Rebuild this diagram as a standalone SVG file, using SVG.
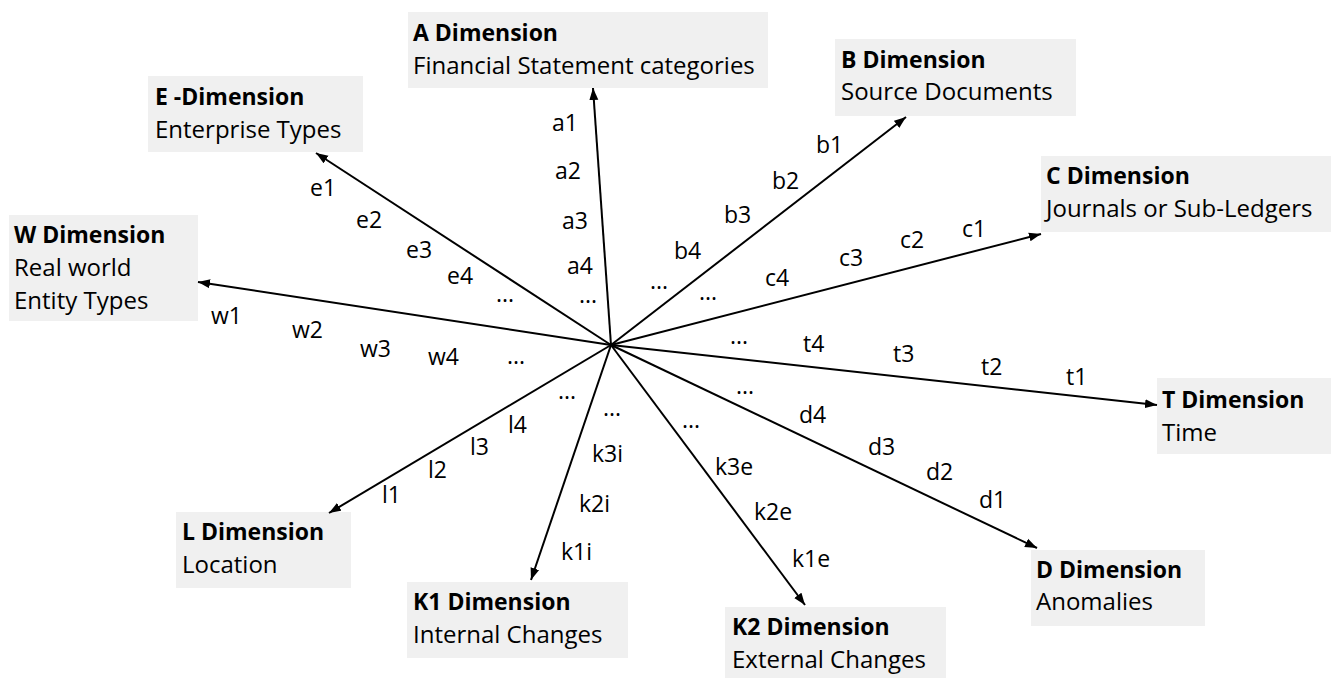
<svg xmlns="http://www.w3.org/2000/svg" width="1331" height="678" viewBox="0 0 1331 678">
<style>
.box{fill:#f0f0f0;stroke:none}
.h{font-family:"Open Sans","Noto Sans",sans-serif;font-size:23px;font-weight:bold;fill:#000}
.s{font-family:"Open Sans","Noto Sans",sans-serif;font-size:24px;fill:#000}
.l{font-family:"Open Sans","Noto Sans",sans-serif;font-size:23px;fill:#000}
.d{font-family:"Open Sans","Noto Sans",sans-serif;font-size:23px;fill:#000;line-height:1}
.c{stroke:#000;stroke-width:2;fill:none;marker-end:url(#ah)}
</style>
<defs>
<marker id="ah" markerUnits="userSpaceOnUse" markerWidth="13" markerHeight="10" refX="12" refY="5" orient="auto">
<path d="M0,0.5 L12,5 L0,9.5 Z" fill="#000"/>
</marker>
</defs>
<rect width="1331" height="678" fill="#fff"/>
<g id="nodeA"><rect class="box" x="408" y="12" width="360" height="76"/><text class="h" x="413" y="41">A Dimension</text><text class="s" x="413" y="74">Financial Statement categories</text></g>
<g id="nodeE"><rect class="box" x="148" y="76" width="215" height="76"/><text class="h" x="155" y="105">E -Dimension</text><text class="s" x="155" y="138">Enterprise Types</text></g>
<g id="nodeW"><rect class="box" x="9" y="215" width="189" height="106"/><text class="h" x="14" y="243">W Dimension</text><text class="s" x="14" y="276">Real world</text><text class="s" x="14" y="309">Entity Types</text></g>
<g id="nodeB"><rect class="box" x="835" y="39" width="241" height="77"/><text class="h" x="841" y="68">B Dimension</text><text class="s" x="841" y="100">Source Documents</text></g>
<g id="nodeC"><rect class="box" x="1041" y="156" width="290" height="76"/><text class="h" x="1046" y="184">C Dimension</text><text class="s" x="1046" y="217">Journals or Sub-Ledgers</text></g>
<g id="nodeT"><rect class="box" x="1157" y="378" width="174" height="76"/><text class="h" x="1162" y="408">T Dimension</text><text class="s" x="1162" y="441">Time</text></g>
<g id="nodeD"><rect class="box" x="1031" y="550" width="174" height="76"/><text class="h" x="1036" y="578">D Dimension</text><text class="s" x="1036" y="610">Anomalies</text></g>
<g id="nodeK2"><rect class="box" x="725" y="607" width="221" height="71"/><text class="h" x="732" y="635">K2 Dimension</text><text class="s" x="732" y="668">External Changes</text></g>
<g id="nodeK1"><rect class="box" x="407" y="582" width="221" height="76"/><text class="h" x="413" y="610">K1 Dimension</text><text class="s" x="413" y="643">Internal Changes</text></g>
<g id="nodeL"><rect class="box" x="176" y="512" width="175" height="76"/><text class="h" x="182" y="540">L Dimension</text><text class="s" x="182" y="573">Location</text></g>
<g id="connectors">
<line class="c" x1="611" y1="345" x2="593" y2="88"/>
<line class="c" x1="611" y1="345" x2="316" y2="153"/>
<line class="c" x1="611" y1="345" x2="198" y2="282"/>
<line class="c" x1="611" y1="345" x2="906" y2="117"/>
<line class="c" x1="611" y1="345" x2="1041" y2="234"/>
<line class="c" x1="611" y1="345" x2="1157" y2="405"/>
<line class="c" x1="611" y1="345" x2="1037" y2="548"/>
<line class="c" x1="611" y1="345" x2="805" y2="605"/>
<line class="c" x1="611" y1="345" x2="531" y2="580"/>
<line class="c" x1="611" y1="345" x2="329" y2="513"/>
</g>
<g id="labels">
<text class="l" x="552" y="131">a1</text><text class="l" x="555" y="179">a2</text><text class="l" x="562" y="229">a3</text><text class="l" x="567" y="274">a4</text><text class="l" x="579" y="303">...</text>
<text class="l" x="310" y="196">e1</text><text class="l" x="356" y="228">e2</text><text class="l" x="406" y="258">e3</text><text class="l" x="447" y="284">e4</text><text class="l" x="496" y="302">...</text>
<text class="l" x="211" y="324">w1</text><text class="l" x="292" y="338">w2</text><text class="l" x="360" y="357">w3</text><text class="l" x="428" y="365">w4</text><text class="l" x="507" y="364">...</text>
<text class="l" x="816" y="153">b1</text><text class="l" x="772" y="189">b2</text><text class="l" x="724" y="223">b3</text><text class="l" x="674" y="259">b4</text><text class="l" x="650" y="289">...</text>
<text class="l" x="962" y="237">c1</text><text class="l" x="900" y="248">c2</text><text class="l" x="839" y="266">c3</text><text class="l" x="765" y="286">c4</text><text class="l" x="699" y="300">...</text>
<text class="l" x="1066" y="385">t1</text><text class="l" x="981" y="375">t2</text><text class="l" x="893" y="362">t3</text><text class="l" x="803" y="352">t4</text><text class="l" x="730" y="344">...</text>
<text class="l" x="979" y="508">d1</text><text class="l" x="926" y="480">d2</text><text class="l" x="868" y="455">d3</text><text class="l" x="799" y="423">d4</text><text class="l" x="736" y="394">...</text>
<text class="l" x="792" y="567">k1e</text><text class="l" x="754" y="520">k2e</text><text class="l" x="715" y="475">k3e</text><text class="l" x="682" y="428">...</text>
<text class="l" x="561" y="560">k1i</text><text class="l" x="579" y="512">k2i</text><text class="l" x="592" y="462">k3i</text><text class="l" x="603" y="416">...</text>
<text class="l" x="382" y="503">l1</text><text class="l" x="428" y="478">l2</text><text class="l" x="470" y="455">l3</text><text class="l" x="508" y="433">l4</text><text class="l" x="558" y="399">...</text>
</g>
</svg>
